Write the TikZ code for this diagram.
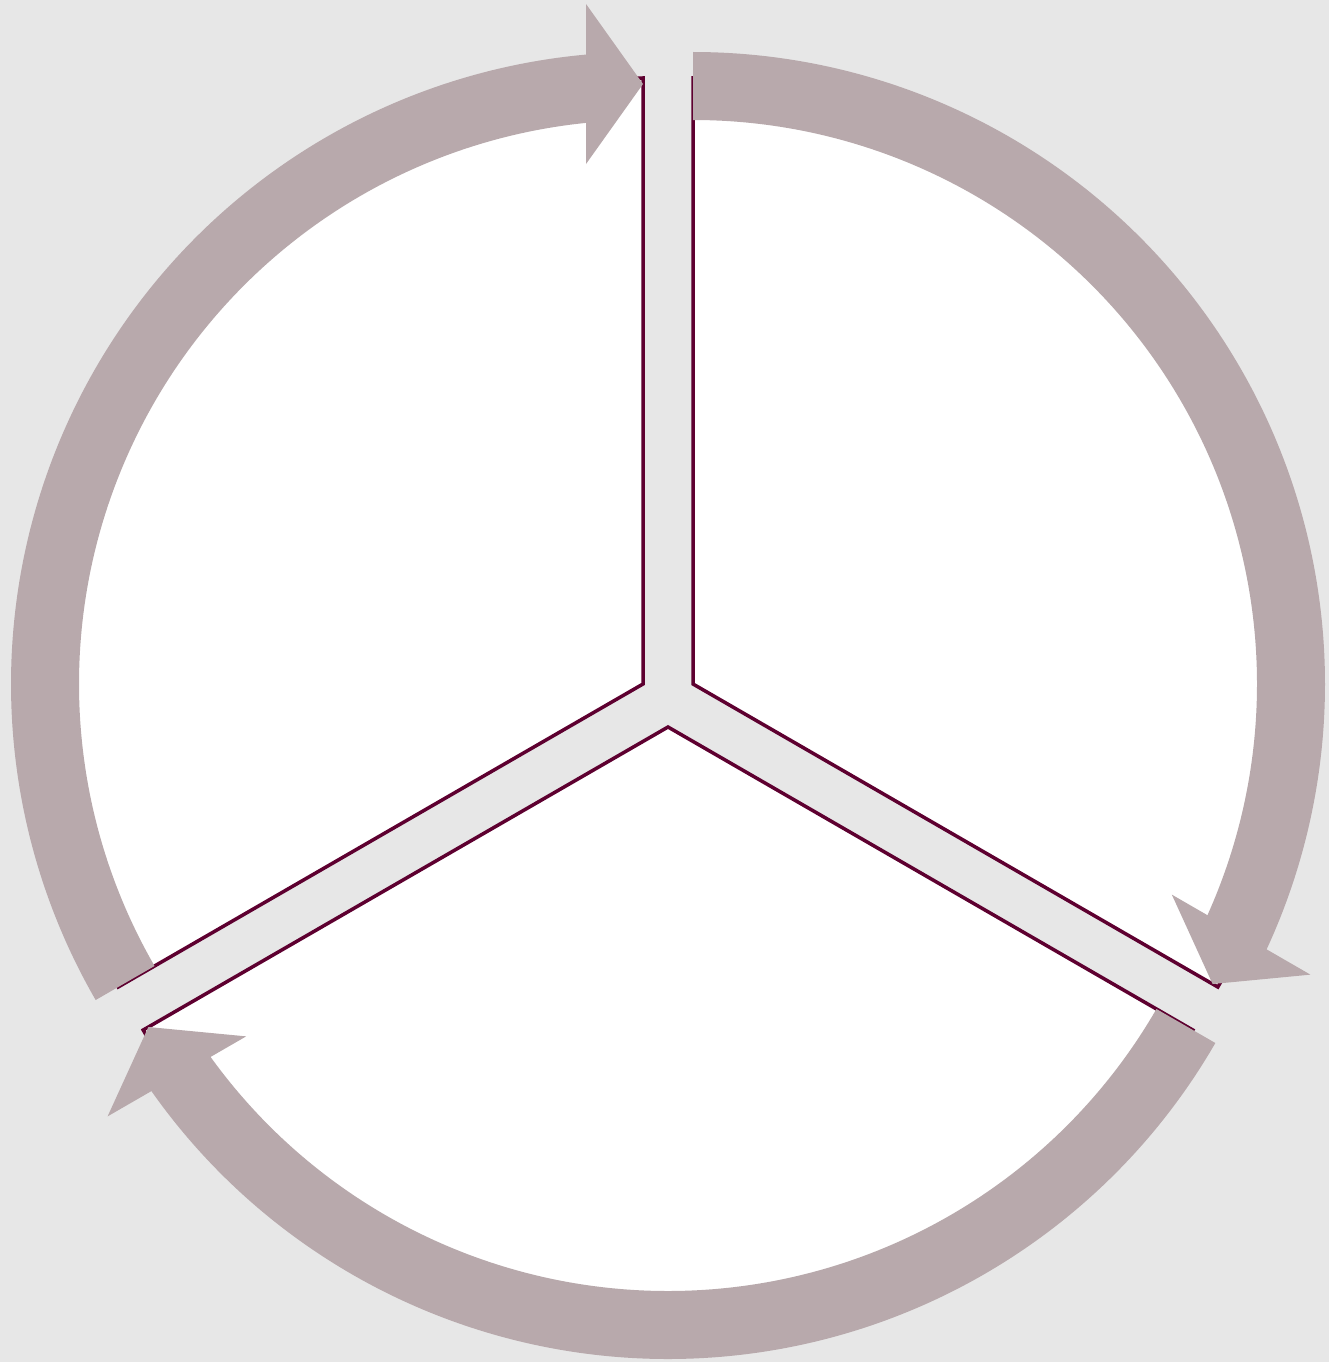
\documentclass[tikz,border=0pt]{standalone}
\usepackage{tikz}
\usetikzlibrary{calc}

\definecolor{bggray}{RGB}{231,231,231}
\definecolor{ringgray}{RGB}{184,169,172}
\definecolor{edgewine}{RGB}{94,0,48}

\begin{document}
\begin{tikzpicture}[
        x=1pt, y=1pt,
        sector/.style={fill=white, draw=edgewine, line width=3.5pt},
        ring/.style={fill=ringgray}
    ]
        \fill[bggray] (0,0) rectangle (1329,-1362);
        \useasboundingbox (0,0) rectangle (1329,-1362);

        % apexes of the three segments
        \coordinate (tl) at (643,-684);
        \coordinate (tr) at (693,-684);
        \coordinate (bt) at (668,-727);

        \filldraw[sector] (tl) -- ++(90:606) arc[start angle=90, end angle=210, radius=606] -- cycle;
        \filldraw[sector] (tr) -- ++(90:606) arc[start angle=90, end angle=-30, radius=606] -- cycle;
        \filldraw[sector] (bt) -- ++(-30:606) arc[start angle=-30, end angle=-150, radius=606] -- cycle;

        % left arc, pointing up
        \fill[ring] ($(tl)+(210:632)$) arc[start angle=210, end angle=95, radius=632]
            -- ($(tl)+(95:564)$) arc[start angle=95, end angle=210, radius=564] -- cycle;
        \fill[ring] ($(tl)+(90:600)$) -- ($(tl)+(90:600)+(180:57)+(90:80)$)
            -- ($(tl)+(90:600)+(180:57)+(270:80)$) -- cycle;

        % right arc, pointing down
        \fill[ring] ($(tr)+(90:632)$) arc[start angle=90, end angle=-25, radius=632]
            -- ($(tr)+(-25:564)$) arc[start angle=-25, end angle=90, radius=564] -- cycle;
        \fill[ring] ($(tr)+(-30:600)$) -- ($(tr)+(-30:600)+(60:57)+(-30:80)$)
            -- ($(tr)+(-30:600)+(60:57)+(150:80)$) -- cycle;

        % bottom arc, pointing up-left
        \fill[ring] ($(bt)+(-30:632)$) arc[start angle=-30, end angle=-145, radius=632]
            -- ($(bt)+(-145:564)$) arc[start angle=-145, end angle=-30, radius=564] -- cycle;
        \fill[ring] ($(bt)+(-150:600)$) -- ($(bt)+(-150:600)+(-60:57)+(-150:80)$)
            -- ($(bt)+(-150:600)+(-60:57)+(30:80)$) -- cycle;
    \end{tikzpicture}
\end{document}
